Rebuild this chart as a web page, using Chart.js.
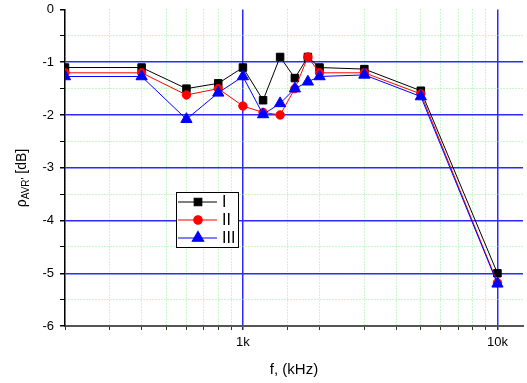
<!DOCTYPE html>
<html>
<head>
<meta charset="utf-8">
<script src="https://cdn.jsdelivr.net/npm/chart.js@4.4.1/dist/chart.umd.min.js"></script>
<style>
  html, body { margin: 0; padding: 0; background: #fff; }
  #wrap { width: 527px; height: 383px; }
</style>
</head>
<body>
<div id="wrap"><canvas id="chart"></canvas></div>
<script>
// frequencies (Hz) and the three measured curves (dB)
const freqs = [200, 400, 600, 800, 1000, 1200, 1400, 1600, 1800, 2000, 3000, 5000, 10000];
const seriesI   = [-1.1, -1.1, -1.5, -1.4, -1.1, -1.72, -0.9, -1.3, -0.9, -1.1, -1.13, -1.54, -5.0];
const seriesII  = [-1.2, -1.2, -1.62, -1.5, -1.83, -1.95, -2.0, -1.5, -0.9, -1.2, -1.2, -1.6, -5.18];
const seriesIII = [-1.27, -1.27, -2.08, -1.58, -1.27, -1.99, -1.78, -1.5, -1.37, -1.27, -1.24, -1.65, -5.2];
const seriesNames = ['I', 'II', 'III'];
const xLabels = { 1000: '1k', 10000: '10k' };

const majorBlue = '#2b2bff';
const minorGreen = '#8fef8f';

function pts(vals) {
    return freqs.map((f, i) => ({ x: f, y: vals[i] }));
}

// legend box drawn inside the plot, like the original
const boxLegend = {
    id: 'boxLegend',
    afterDraw(chart) {
        const c = chart.ctx;
        const x0 = 176, y0 = 192, w = 62, h = 55;
        c.save();
        c.fillStyle = '#fff';
        c.fillRect(x0, y0, w, h);
        c.strokeStyle = '#000';
        c.lineWidth = 1;
        c.strokeRect(x0 + 0.5, y0 + 0.5, w, h);
        const rows = [202, 220, 238];
        chart.data.datasets.forEach((ds, i) => {
            const y = rows[i];
            c.strokeStyle = ds.borderColor;
            c.lineWidth = 1.2;
            c.beginPath();
            c.moveTo(178, y);
            c.lineTo(217, y);
            c.stroke();
            c.fillStyle = ds.pointBackgroundColor;
            c.strokeStyle = ds.pointBackgroundColor;
            Chart.helpers.drawPoint(c, { pointStyle: ds.pointStyle, radius: ds.pointRadius, borderWidth: 1 }, 198, y);
            c.fillStyle = '#000';
            c.font = '16px "Liberation Sans", Arial, sans-serif';
            c.textBaseline = 'middle';
            c.fillText(ds.label, 222, y + 1);
        });
        c.restore();
    }
};

// rotated y title with subscript
const yTitle = {
    id: 'yTitle',
    afterDraw(chart) {
        const c = chart.ctx;
        c.save();
        c.translate(26, 178);
        c.rotate(-Math.PI / 2);
        c.fillStyle = '#000';
        c.textBaseline = 'alphabetic';
        const big = '14px "Liberation Sans", Arial, sans-serif';
        const small = '10px "Liberation Sans", Arial, sans-serif';
        c.font = big;
        const w1 = c.measureText('\u03c1').width;
        const w3 = c.measureText(' [dB]').width;
        c.font = small;
        const w2 = c.measureText("AVR'").width;
        let x = -(w1 + w2 + w3) / 2;
        c.font = big;
        c.fillText('\u03c1', x, 0);
        x += w1;
        c.font = small;
        c.fillText("AVR'", x, 3);
        x += w2;
        c.font = big;
        c.fillText(' [dB]', x, 0);
        c.restore();
    }
};

const tickFont = { family: '"Liberation Sans", Arial, sans-serif', size: 13 };

new Chart(document.getElementById('chart'), {
    type: 'line',
    data: {
        datasets: [
            { label: seriesNames[0], data: pts(seriesI), borderColor: '#000', pointBackgroundColor: '#000',
              pointBorderColor: '#000', pointStyle: 'rect', pointRadius: 5.3, order: 3 },
            { label: seriesNames[1], data: pts(seriesII), borderColor: '#ff0000', pointBackgroundColor: '#ff0000',
              pointBorderColor: '#ff0000', pointStyle: 'circle', pointRadius: 4.2, order: 2 },
            { label: seriesNames[2], data: pts(seriesIII), borderColor: '#0000ff', pointBackgroundColor: '#0000ff',
              pointBorderColor: '#0000ff', pointStyle: 'triangle', pointRadius: 6.5, order: 1 }
        ]
    },
    options: {
        responsive: true,
        maintainAspectRatio: false,
        animation: false,
        devicePixelRatio: 1,
        elements: {
            line: { borderWidth: 1, tension: 0 },
            point: { borderWidth: 1 }
        },
        layout: { autoPadding: false, padding: { top: 9.5, right: 4, left: 0, bottom: 0 } },
        plugins: {
            legend: { display: false },
            tooltip: { enabled: false }
        },
        scales: {
            x: {
                type: 'logarithmic',
                min: 200,
                max: 12600,
                afterBuildTicks: (s) => { s.ticks = s.ticks.filter(t => t.value <= 10000); },
                afterFit: (s) => { s.height = 57; s.paddingLeft = 0; s.paddingRight = 0; },
                grid: {
                    color: (ctx) => ctx.tick && xLabels[ctx.tick.value] ? majorBlue : minorGreen,
                    lineWidth: (ctx) => ctx.tick && xLabels[ctx.tick.value] ? 1.5 : 1,
                    tickColor: '#333',
                    tickLength: 4
                },
                border: {
                    color: '#555',
                    width: 2,
                    dash: (ctx) => ctx.tick && !xLabels[ctx.tick.value] ? [1, 2] : []
                },
                ticks: {
                    autoSkip: false,
                    maxRotation: 0,
                    padding: 5,
                    color: '#000',
                    font: tickFont,
                    callback: (v) => xLabels[v] || ''
                },
                title: {
                    display: true,
                    text: 'f, (kHz)',
                    color: '#000',
                    font: { family: '"Liberation Sans", Arial, sans-serif', size: 15 },
                    padding: { top: 0, bottom: 4 }
                }
            },
            y: {
                min: -6,
                max: 0,
                afterFit: (s) => { s.width = 65; s.paddingTop = 0; s.paddingBottom = 0; },
                grid: {
                    color: (ctx) => {
                        if (!ctx.tick) return minorGreen;
                        const v = ctx.tick.value;
                        if (v === 0 || v === -6) return 'rgba(0,0,0,0)';
                        return Number.isInteger(v) ? majorBlue : minorGreen;
                    },
                    lineWidth: (ctx) => ctx.tick && Number.isInteger(ctx.tick.value) ? 1.5 : 1,
                    tickColor: '#000',
                    tickLength: 5
                },
                border: {
                    color: '#000',
                    width: 1.5,
                    dash: (ctx) => ctx.tick && !Number.isInteger(ctx.tick.value) ? [1, 2] : []
                },
                ticks: {
                    stepSize: 0.5,
                    padding: 6,
                    color: '#000',
                    font: tickFont,
                    callback: (v) => Number.isInteger(v) ? String(v) : ''
                }
            }
        }
    },
    plugins: [boxLegend, yTitle]
});
</script>
</body>
</html>
